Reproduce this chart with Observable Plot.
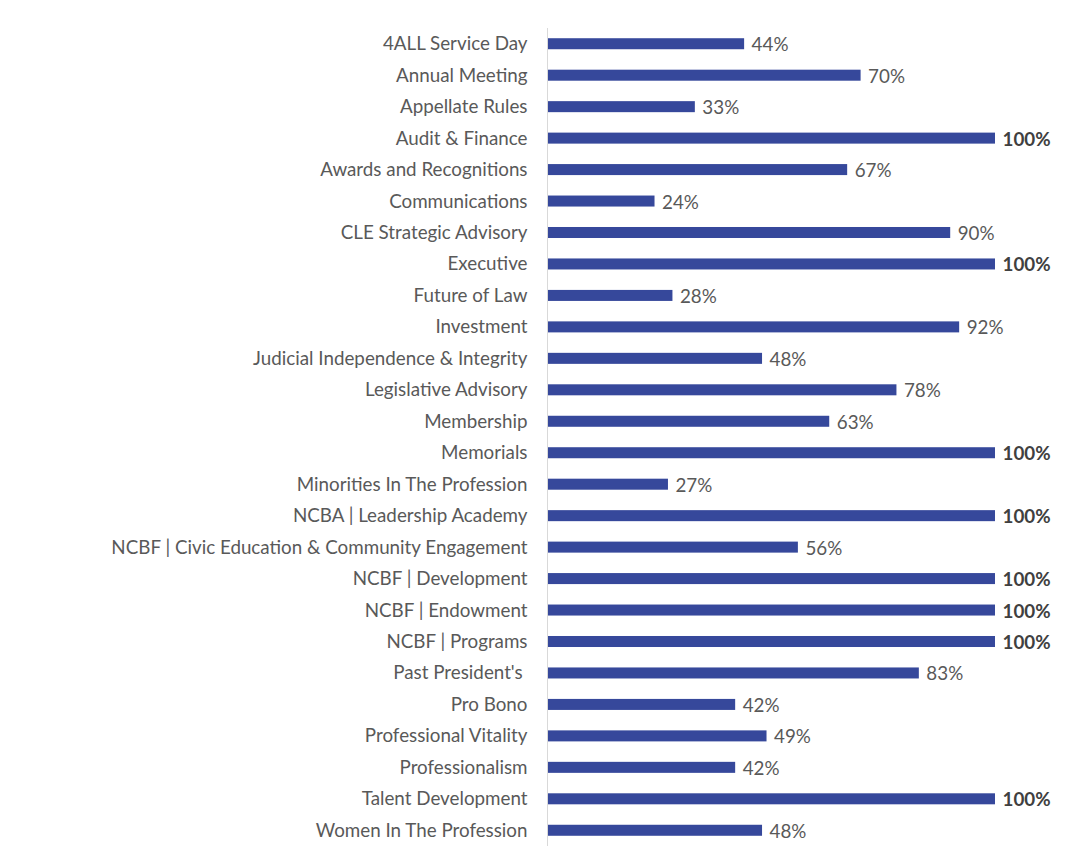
<!DOCTYPE html>
<html>
<head>
<meta charset="utf-8">
<script src="https://cdn.jsdelivr.net/npm/d3@7"></script>
<script src="https://cdn.jsdelivr.net/npm/@observablehq/plot@0.6"></script>
<style>
  html, body { margin: 0; padding: 0; background: #fff; }
  #chart svg { display: block; }
</style>
</head>
<body>
<div id="chart"></div>
<script>
const committees = [
  "4ALL Service Day", "Annual Meeting", "Appellate Rules", "Audit & Finance",
  "Awards and Recognitions", "Communications", "CLE Strategic Advisory", "Executive",
  "Future of Law", "Investment", "Judicial Independence & Integrity", "Legislative Advisory",
  "Membership", "Memorials", "Minorities In The Profession", "NCBA | Leadership Academy",
  "NCBF | Civic Education & Community Engagement", "NCBF | Development", "NCBF | Endowment",
  "NCBF | Programs", "Past President's\u00a0", "Pro Bono", "Professional Vitality",
  "Professionalism", "Talent Development", "Women In The Profession"
];
const percents = [44, 70, 33, 100, 67, 24, 90, 100, 28, 92, 48, 78, 63, 100, 27, 100, 56, 100, 100, 100, 83, 42, 49, 42, 100, 48];

const data = committees.map((name, i) => ({name, value: percents[i] / 100}));
const font = "'Source Sans Pro', Lato, 'Noto Sans', sans-serif";
const fs = 18.8;

const chart = Plot.plot({
  width: 1076,
  height: 852,
  marginLeft: 547,
  marginRight: 81,
  marginTop: 28,
  marginBottom: 6,
  style: {fontFamily: font, fontSize: fs + "px", color: "#595959", background: "#fff"},
  x: {domain: [0, 1], axis: null},
  y: {domain: committees, paddingInner: 0.65, paddingOuter: 0.325, round: false, label: null},
  axis: null,
  marks: [
    Plot.axisY({tickSize: 0, tickPadding: 20, fontSize: fs, fill: "#595959", label: null}),
    Plot.barX(data, {x: "value", y: "name", fill: "#36489B", insetLeft: 1}),
    Plot.ruleX([0], {stroke: "#d9d9d9", strokeWidth: 1}),
    Plot.text(data.filter(d => d.value < 1), {
      x: "value", y: "name",
      text: d => Math.round(d.value * 100) + "%",
      textAnchor: "start", dx: 7, dy: 1,
      fontSize: fs, fill: "#595959"
    }),
    Plot.text(data.filter(d => d.value >= 1), {
      x: "value", y: "name",
      text: d => Math.round(d.value * 100) + "%",
      textAnchor: "start", dx: 7, dy: 1,
      fontSize: fs, fill: "#404040", fontWeight: "bold"
    })
  ]
});
document.getElementById("chart").appendChild(chart);
</script>
</body>
</html>
